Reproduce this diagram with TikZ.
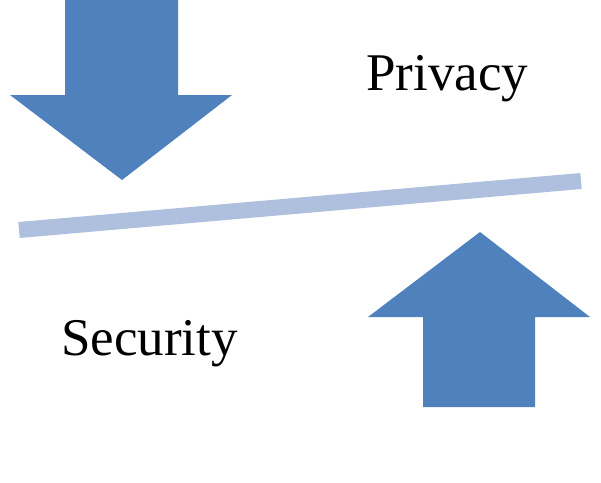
\documentclass[tikz,border=0pt]{standalone}
\usepackage{fontspec}
\setmainfont{Liberation Serif}
\definecolor{arrowblue}{HTML}{4F81BD}
\definecolor{barblue}{HTML}{AFC0DF}
\begin{document}
\begin{tikzpicture}[x=1pt,y=-1pt,
  bigarrow/.style={fill=arrowblue,draw=none},
  lbl/.style={font=\fontsize{53}{60}\selectfont,inner sep=0pt,anchor=base west}]
\useasboundingbox (0,0) rectangle (601,482);
% down arrow
\fill[bigarrow] (65,0) -- (178,0) -- (178,95) -- (232,95) -- (122,180) -- (10,95) -- (65,95) -- cycle;
% up arrow
\fill[bigarrow] (423,407) -- (535,407) -- (535,317) -- (590,317) -- (480,232) -- (368,317) -- (423,317) -- cycle;
% bar
\coordinate (bl) at (19,230);
\coordinate (br) at (581,181);
\draw[barblue,line width=16pt] (bl) -- (br);
\node[lbl] (privacy) at (366,90) {Privacy};
\node[lbl] (security) at (61,355) {Security};
\end{tikzpicture}
\end{document}
